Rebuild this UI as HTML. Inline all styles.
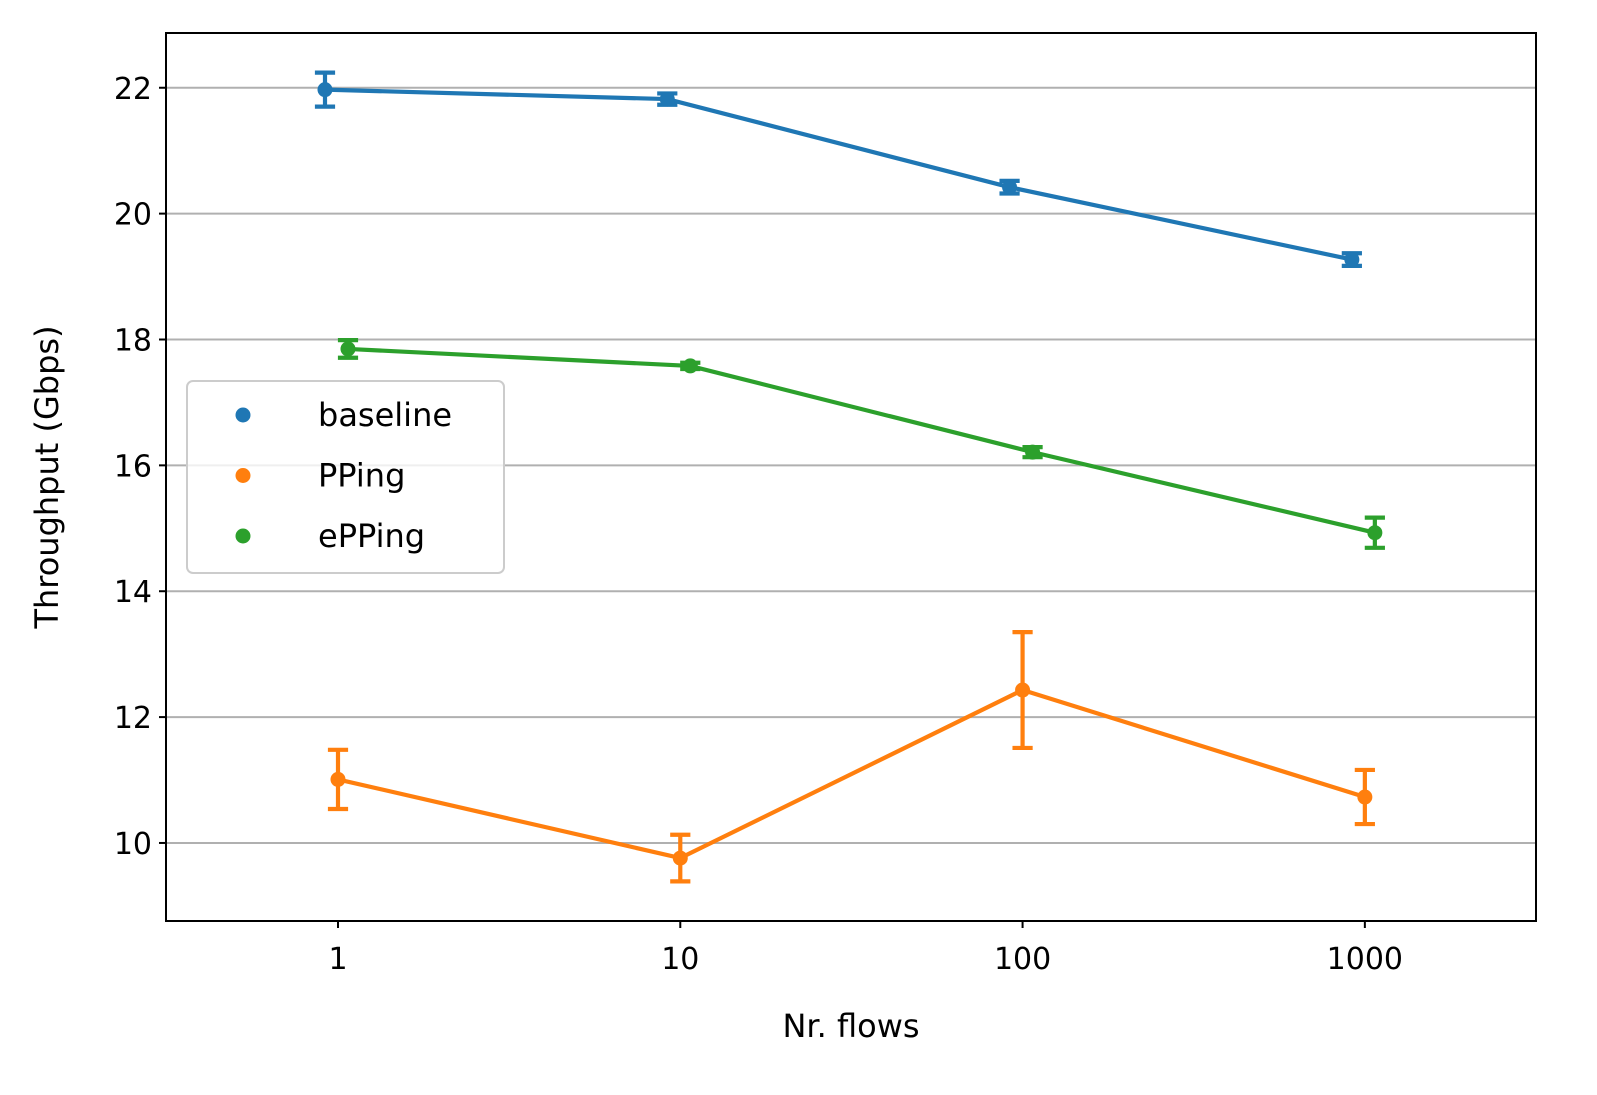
<!DOCTYPE html>
<html><head><meta charset="utf-8"><style>
html,body{margin:0;padding:0;background:#fff;}
svg{display:block;font-family:"DejaVu Sans","Liberation Sans",sans-serif;}
</style></head><body>
<svg id="chart" width="1597" height="1095" viewBox="0 0 1597 1095" xmlns="http://www.w3.org/2000/svg">
<rect width="1597" height="1095" fill="#fff"/>
<g id="grid"></g>
<g id="series"></g>
<rect x="166" y="33" width="1370" height="888" fill="none" stroke="#000" stroke-width="2"/>
<g id="axes"></g>
<text x="851" y="1037" font-size="32" text-anchor="middle">Nr. flows</text>
<text transform="translate(58,477) rotate(-90)" font-size="32" text-anchor="middle">Throughput (Gbps)</text>
<g id="legend">
<rect x="187" y="381" width="317" height="192" rx="6" fill="#fff" fill-opacity="0.8" stroke="#ccc" stroke-width="2"/>
</g>
</svg>
<script>
const xCats = [1, 10, 100, 1000];
const yTicks = [10, 12, 14, 16, 18, 20, 22];
const seriesNames = ["baseline", "PPing", "ePPing"];
const baselineVals = [21.97, 21.82, 20.42, 19.27];
const baselineErr = [0.27, 0.09, 0.1, 0.1];
const ppingVals = [11.01, 9.76, 12.43, 10.73];
const ppingErr = [0.47, 0.37, 0.92, 0.43];
const epingVals = [17.85, 17.58, 16.21, 14.93];
const epingErr = [0.14, 0.05, 0.08, 0.24];

const colors = ["#1f77b4", "#ff7f0e", "#2ca02c"];
const offs = [-13, 0, 10];
const L=166,R=1536,T=33,B=921;
const xmin=-0.5025,xmax=3.5,ymin=8.76,ymax=22.87;
const X=v=>L+(Math.log10(v)-xmin)/(xmax-xmin)*(R-L);
const Y=v=>B-(v-ymin)/(ymax-ymin)*(B-T);
const NS="http://www.w3.org/2000/svg";
function mk(tag,attrs,parent){const e=document.createElementNS(NS,tag);for(const k in attrs)e.setAttribute(k,attrs[k]);parent.appendChild(e);return e;}
const grid=document.getElementById('grid'),axes=document.getElementById('axes'),ser=document.getElementById('series'),leg=document.getElementById('legend');
yTicks.forEach(t=>{
  const g=mk('line',{x1:L,x2:R,y1:Y(t),y2:Y(t),stroke:'#b0b0b0','stroke-width':2},grid);
  
  
  const tk=mk('line',{x1:L-7,x2:L,y1:Y(t),y2:Y(t),stroke:'#000','stroke-width':2},axes);
  
  
  const tx=mk('text',{x:L-14,y:Y(t)+11,'font-size':30,'text-anchor':'end'},axes);
  tx.textContent=t;
  
  
});
xCats.forEach(c=>{
  const tk=mk('line',{x1:X(c),x2:X(c),y1:B,y2:B+7,stroke:'#000','stroke-width':2},axes);
  
  
  const tx=mk('text',{x:X(c),y:B+48,'font-size':30,'text-anchor':'middle'},axes);
  tx.textContent=c;
  
  
});
const allVals=[baselineVals,ppingVals,epingVals],allErr=[baselineErr,ppingErr,epingErr];
allVals.forEach((vals,s)=>{
  const g=mk('g',{},ser);
  
  
  const pts=vals.map((v,i)=>[X(xCats[i])+offs[s],Y(v)]);
  const ln=mk('polyline',{points:pts.map(p=>p.join(',')).join(' '),fill:'none',stroke:colors[s],'stroke-width':4.2},g);
  
  
  vals.forEach((v,i)=>{
    const x=pts[i][0],e=allErr[s][i],y1=Y(v+e),y2=Y(v-e);
    const eb=mk('path',{d:`M${x},${y1}V${y2}M${x-8},${y1}H${x+8}M${x-8},${y2}H${x+8}`,stroke:colors[s],'stroke-width':4.2,fill:'none','stroke-linecap':'square'},g);
    
    
    const c=mk('circle',{cx:x,cy:Y(v),r:7.5,fill:colors[s]},g);
    
    
  });
  const ly=415+s*60.5;
  const d=mk('circle',{cx:243,cy:ly,r:7.5,fill:colors[s]},leg);
  
  
  const t=mk('text',{x:318,y:ly+11,'font-size':32},leg);
  t.textContent=seriesNames[s];
  
  
});
</script>
</body></html>
